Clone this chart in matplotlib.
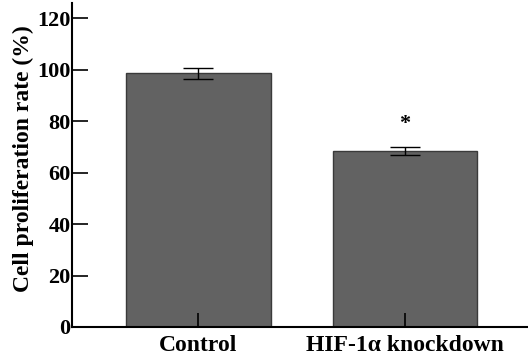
import matplotlib.pyplot as plt

# datos
grupos = ["Control", "HIF-1\u03b1 knockdown"]
proliferacion = [98.7, 68.3]
error = [2.2, 1.6]
asterisco_y = 79.0
yticks = [0, 20, 40, 60, 80, 100, 120]

plt.rcParams['font.family'] = ['Liberation Serif', 'DejaVu Serif']
plt.rcParams['font.weight'] = 'bold'

fig = plt.figure(figsize=(5.28, 3.6), dpi=100)
ax = fig.add_axes([0.1364, 0.0917, 0.8616, 0.9])

x = list(range(len(grupos)))
ax.bar(x, proliferacion, width=0.70, color='#626262', edgecolor='#3a3a3a', linewidth=1, zorder=1)
ax.errorbar(x, proliferacion, yerr=error, fmt='none', ecolor='black', elinewidth=1,
            capsize=11, capthick=1, zorder=3)
ax.text(1, asterisco_y, "*", ha='center', va='center', fontsize=16, fontweight='bold')

ax.set_xlim(-0.609, 1.589)
ax.set_ylim(0, 126)
ax.set_xticks(x)
ax.set_xticklabels(grupos, fontsize=17, fontweight='bold')
ax.set_yticks(yticks)
ax.set_yticklabels([str(v) for v in yticks], fontsize=16, fontweight='bold')
ax.set_ylabel("Cell proliferation rate (%)", fontsize=17, fontweight='bold')
ax.yaxis.set_label_coords(-0.084, 0.519)

ax.spines['top'].set_visible(False)
ax.spines['right'].set_visible(False)
ax.spines['left'].set_linewidth(1.5)
ax.spines['bottom'].set_linewidth(1.5)
ax.tick_params(axis='y', direction='in', length=11.5, width=1.2, pad=1)
ax.tick_params(axis='x', direction='in', length=10, width=1.2, pad=5.5)

fig.savefig("out.png", dpi=100)
